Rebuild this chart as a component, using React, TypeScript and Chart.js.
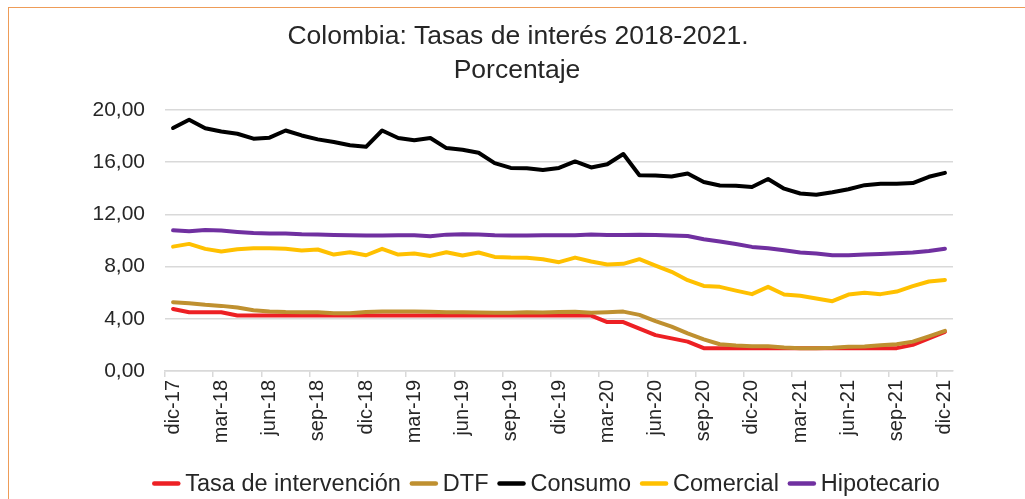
import { useEffect, useRef } from "react";
import { Chart, registerables } from "chart.js";

Chart.register(...registerables);

const labels = [
  "dic-17", "ene-18", "feb-18", "mar-18", "abr-18", "may-18", "jun-18", "jul-18", "ago-18", "sep-18", "oct-18", "nov-18",
  "dic-18", "ene-19", "feb-19", "mar-19", "abr-19", "may-19", "jun-19", "jul-19", "ago-19", "sep-19", "oct-19", "nov-19",
  "dic-19", "ene-20", "feb-20", "mar-20", "abr-20", "may-20", "jun-20", "jul-20", "ago-20", "sep-20", "oct-20", "nov-20",
  "dic-20", "ene-21", "feb-21", "mar-21", "abr-21", "may-21", "jun-21", "jul-21", "ago-21", "sep-21", "oct-21", "nov-21",
  "dic-21",
];

const tasaIntervencion = [
  4.75, 4.5, 4.5, 4.5, 4.25, 4.25, 4.25, 4.25, 4.25, 4.25, 4.25, 4.25,
  4.25, 4.25, 4.25, 4.25, 4.25, 4.25, 4.25, 4.25, 4.25, 4.25, 4.25, 4.25,
  4.25, 4.25, 4.25, 3.75, 3.75, 3.25, 2.75, 2.5, 2.25, 1.75, 1.75, 1.75,
  1.75, 1.75, 1.75, 1.75, 1.75, 1.75, 1.75, 1.75, 1.75, 1.75, 2.0, 2.5,
  3.0,
];

const dtf = [
  5.27, 5.19, 5.07, 4.99, 4.87, 4.66, 4.56, 4.52, 4.51, 4.5, 4.42, 4.42,
  4.53, 4.56, 4.56, 4.55, 4.54, 4.5, 4.5, 4.48, 4.47, 4.46, 4.5, 4.48,
  4.52, 4.54, 4.46, 4.5, 4.55, 4.3, 3.82, 3.4, 2.88, 2.42, 2.05, 1.96,
  1.9, 1.9, 1.8, 1.75, 1.75, 1.78, 1.86, 1.88, 1.98, 2.05, 2.25, 2.65,
  3.08,
];

const consumo = [
  18.62, 19.25, 18.6, 18.35, 18.18, 17.8, 17.88, 18.43, 18.05, 17.75, 17.55, 17.3,
  17.18, 18.43, 17.85, 17.68, 17.85, 17.08, 16.95, 16.72, 15.93, 15.56, 15.54, 15.4,
  15.56, 16.06, 15.6, 15.84, 16.63, 15.0, 14.98, 14.9, 15.14, 14.48, 14.22, 14.2,
  14.1, 14.71, 13.97, 13.6, 13.5, 13.7, 13.93, 14.24, 14.34, 14.34, 14.4, 14.88,
  15.18,
];

const comercial = [
  9.53, 9.74, 9.36, 9.15, 9.33, 9.41, 9.41, 9.36, 9.23, 9.31, 8.92, 9.1,
  8.87, 9.36, 8.92, 9.0, 8.82, 9.1, 8.85, 9.08, 8.74, 8.69, 8.67, 8.57,
  8.34, 8.69, 8.39, 8.16, 8.21, 8.57, 8.08, 7.6, 6.96, 6.52, 6.45, 6.16,
  5.89, 6.45, 5.86, 5.76, 5.56, 5.35, 5.86, 5.99, 5.89, 6.09, 6.5, 6.86,
  6.98,
];

const hipotecario = [
  10.78, 10.7, 10.8, 10.76, 10.66, 10.58, 10.53, 10.53, 10.48, 10.46, 10.43, 10.4,
  10.38, 10.38, 10.4, 10.4, 10.33, 10.45, 10.48, 10.46, 10.4, 10.38, 10.38, 10.4,
  10.4, 10.4, 10.46, 10.43, 10.43, 10.45, 10.43, 10.38, 10.35, 10.1, 9.93, 9.73,
  9.51, 9.41, 9.25, 9.08, 9.0, 8.87, 8.87, 8.92, 8.97, 9.02, 9.08, 9.2,
  9.36,
];

const seriesNames = ["Tasa de intervención", "DTF", "Consumo", "Comercial", "Hipotecario"];
const seriesColors = ["#ED2024", "#BF9030", "#000000", "#FFC000", "#7030A0"];
const titleLines = ["Colombia: Tasas de interés 2018-2021.", "Porcentaje"];

const FONT = "'Liberation Sans', Arial, Helvetica, sans-serif";
const TEXT = "#262626";
const GRID = "#d9d9d9";

const titlePlugin = {
  id: "customTitle",
  afterDraw(chart: any) {
    const ctx = chart.ctx;
    ctx.save();
    ctx.fillStyle = TEXT;
    ctx.font = `26.5px ${FONT}`;
    ctx.textAlign = "center";
    ctx.textBaseline = "middle";
    ctx.fillText(titleLines[0], 510, 28.5);
    ctx.fillText(titleLines[1], 509, 62.5);
    ctx.restore();
  },
};

const legendPlugin = {
  id: "customLegend",
  afterDraw(chart: any) {
    const ctx = chart.ctx;
    const ds = chart.data.datasets;
    ctx.save();
    ctx.font = `23.5px ${FONT}`;
    const sample = 28;
    const gapText = 5;
    const gapItem = 9;
    const widths = ds.map((d: any) => ctx.measureText(d.label).width);
    let total = 0;
    widths.forEach((w: number, i: number) => {
      total += sample + gapText + w + (i > 0 ? gapItem : 0);
    });
    let x = 538 - total / 2;
    const y = 475.5;
    ds.forEach((d: any, i: number) => {
      ctx.strokeStyle = d.borderColor;
      ctx.lineWidth = 4.5;
      ctx.lineCap = "round";
      ctx.beginPath();
      ctx.moveTo(x + 2, y);
      ctx.lineTo(x + sample - 2, y);
      ctx.stroke();
      ctx.fillStyle = TEXT;
      ctx.textAlign = "left";
      ctx.textBaseline = "middle";
      ctx.fillText(d.label, x + sample + gapText, y + 1);
      x += sample + gapText + widths[i] + gapItem;
    });
    ctx.restore();
  },
};

export default function App() {
  const canvasRef = useRef<HTMLCanvasElement | null>(null);

  useEffect(() => {
    if (!canvasRef.current) return;
    const values = [tasaIntervencion, dtf, consumo, comercial, hipotecario];
    const orders = [5, 4, 3, 2, 1];
    const chart = new Chart(canvasRef.current, {
      type: "line",
      data: {
        labels,
        datasets: values.map((v, i) => ({
          label: seriesNames[i],
          data: v,
          borderColor: seriesColors[i],
          backgroundColor: seriesColors[i],
          borderWidth: 4,
          pointRadius: 0,
          pointHoverRadius: 0,
          tension: 0,
          fill: false,
          borderJoinStyle: "round" as const,
          borderCapStyle: "round" as const,
          order: orders[i],
        })),
      },
      options: {
        responsive: false,
        animation: false,
        devicePixelRatio: 1,
        layout: { padding: { top: 102, right: 72, bottom: 0, left: 0 } },
        plugins: {
          legend: { display: false },
          title: { display: false },
          tooltip: { enabled: false },
        },
        scales: {
          x: {
            type: "category",
            offset: true,
            afterFit: (scale: any) => {
              scale.height = 128;
            },
            grid: {
              display: true,
              drawOnChartArea: false,
              drawTicks: true,
              tickLength: 6,
              offset: true,
              lineWidth: 1.5,
              color: (c: any) => (c.index % 3 === 0 ? GRID : "rgba(0,0,0,0)"),
              tickColor: (c: any) => (c.index % 3 === 0 ? GRID : "rgba(0,0,0,0)"),
            },
            border: { display: true, color: GRID, width: 1.5 },
            ticks: {
              autoSkip: false,
              maxRotation: 90,
              minRotation: 90,
              padding: 3,
              color: TEXT,
              font: { family: FONT, size: 20 },
              callback: (_v: any, i: number) => (i % 3 === 0 ? labels[i] : ""),
            },
          },
          y: {
            min: 0,
            max: 20,
            afterFit: (scale: any) => {
              scale.width = 157;
            },
            grid: {
              color: GRID,
              lineWidth: 1.5,
              drawTicks: false,
            },
            border: { display: false },
            ticks: {
              stepSize: 4,
              padding: 20,
              color: TEXT,
              font: { family: FONT, size: 21 },
              callback: (v: any) => Number(v).toFixed(2).replace(".", ","),
            },
          },
        },
      },
      plugins: [titlePlugin, legendPlugin],
    });
    return () => chart.destroy();
  }, []);

  return (
    <div style={{ position: "fixed", left: 0, top: 0, width: 1025, height: 499, background: "#fff", overflow: "hidden" }}>
      <div
        style={{
          position: "absolute",
          left: 8,
          top: 7,
          width: 1030,
          height: 500,
          borderTop: "1.5px solid #EE9C58",
          borderLeft: "1.5px solid #EE9C58",
          boxSizing: "border-box",
        }}
      />
      <canvas
        ref={canvasRef}
        width={1017}
        height={491}
        style={{ position: "absolute", left: 8, top: 8, width: 1017, height: 491, display: "block" }}
      />
    </div>
  );
}
